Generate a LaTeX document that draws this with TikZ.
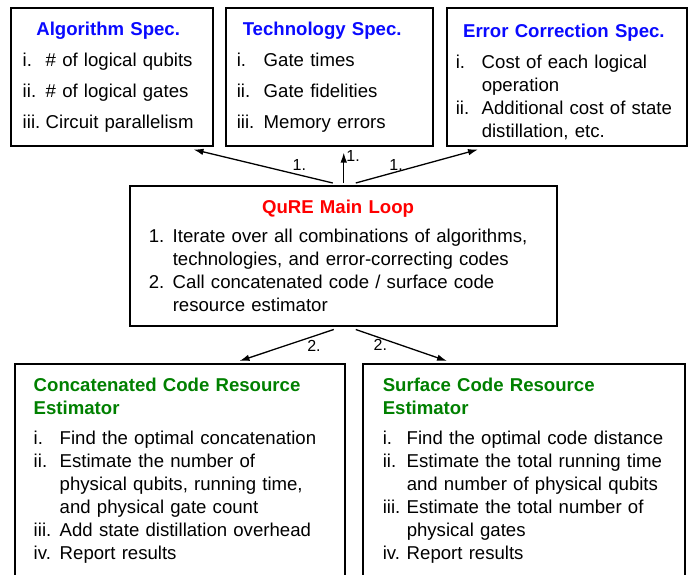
\documentclass[tikz,border=0pt]{standalone}
\usepackage{fontspec}
\setmainfont{Liberation Sans}
\usepackage{amsmath}
\usetikzlibrary{arrows.meta}

\definecolor{specblue}{RGB}{10,10,255}
\definecolor{loopred}{RGB}{255,0,0}
\definecolor{estgreen}{RGB}{0,128,0}

\begin{document}
\begin{tikzpicture}[x=1pt, y=-1pt, >={Latex[length=10pt,width=6.5pt]}]
        \tikzstyle{box}=[draw, line width=1.5pt, anchor=north west, align=left, inner ysep=0pt, font=\fontsize{18.6pt}{23pt}\selectfont]
        \tikzstyle{arr}=[->, line width=1.3pt]
        \tikzstyle{num}=[font=\fontsize{16pt}{18pt}\selectfont]
        \useasboundingbox (0,0) rectangle (694,574);
        \clip (0,0) rectangle (694,574);
        % specs
        \node [box, inner xsep=12pt, text width=178pt, minimum height=138pt] (algo) at (10,7) {%
          \begin{tabular}{@{}p{23pt}@{}l@{}}
          \noalign{\vskip 2pt}
          \multicolumn{2}{c}{\bfseries\color{specblue}Algorithm Spec.}\\[8pt]
          i. & \# of logical qubits\\[8pt]
          ii. & \# of logical gates\\[8pt]
          iii. & Circuit parallelism
          \end{tabular}};
        \node [box, inner xsep=11pt, text width=185pt, minimum height=138pt] (tech) at (225,7) {%
          \begin{tabular}{@{}p{27pt}@{}l@{}}
          \noalign{\vskip 2pt}
          \multicolumn{2}{c}{\bfseries\color{specblue}Technology Spec.}\\[8pt]
          i. & Gate times\\[8pt]
          ii. & Gate fidelities\\[8pt]
          iii. & Memory errors
          \end{tabular}};
        \node [box, inner xsep=9pt, text width=222pt, minimum height=138pt] (err) at (446,7) {%
          \begin{tabular}{@{}p{26pt}@{}l@{}}
          \noalign{\vskip 12pt}
          \multicolumn{2}{c}{\bfseries\color{specblue}Error Correction Spec.}\\[8pt]
          i. & Cost of each logical\\
           & operation\\
          ii. & Additional cost of state\\
           & distillation, etc.
          \end{tabular}};
        % main loop
        \node [box, inner xsep=19pt, text width=389pt, minimum height=140pt] (main) at (129,185) {%
          \begin{tabular}{@{}p{24pt}@{}l@{}}
          \noalign{\vskip 5pt}
          \multicolumn{2}{c}{\bfseries\color{loopred}QuRE Main Loop}\\[6pt]
          1. & Iterate over all combinations of algorithms,\\
           & technologies, and error-correcting codes\\
          2. & Call concatenated code / surface code\\
           & resource estimator
          \end{tabular}};
        % estimators
        \node [box, inner xsep=19pt, text width=292pt, minimum height=214pt] (concat) at (14,363) {%
          \begin{tabular}{@{}p{26pt}@{}l@{}}
          \multicolumn{2}{@{}l@{}}{\bfseries\color{estgreen}Concatenated Code Resource}\\
          \multicolumn{2}{@{}l@{}}{\bfseries\color{estgreen}Estimator}\\[7pt]
          i. & Find the optimal concatenation\\
          ii. & Estimate the number of\\
           & physical qubits, running time,\\
           & and physical gate count\\
          iii. & Add state distillation overhead\\
          iv. & Report results
          \end{tabular}};
        \node [box, inner xsep=20pt, text width=282pt, minimum height=214pt] (surf) at (362,363) {%
          \begin{tabular}{@{}p{24pt}@{}l@{}}
          \multicolumn{2}{@{}l@{}}{\bfseries\color{estgreen}Surface Code Resource}\\
          \multicolumn{2}{@{}l@{}}{\bfseries\color{estgreen}Estimator}\\[7pt]
          i. & Find the optimal code distance\\
          ii. & Estimate the total running time\\
           & and number of physical qubits\\
          iii. & Estimate the total number of\\
           & physical gates\\
          iv. & Report results
          \end{tabular}};
        % step 1
        \draw [arr] ([shift={(-10.5,-2)}]main.north) -- ([shift={(-20,3)}]algo.south east)
          node [num, pos=0.24, above] {1.};
        \draw [arr, shorten >=6pt] ([shift={(0.5,-2)}]main.north) -- ([xshift=0.5pt]main.north |- tech.south)
          node [num, pos=0.75, right, inner sep=2pt] {1.};
        \draw [arr] ([shift={(12.5,-2)}]main.north) -- ([shift={(32,3)}]err.south west)
          node [num, pos=0.33, above, inner sep=1pt] {1.};
        % step 2
        \draw [arr] ([shift={(-9.5,3)}]main.south) -- ([shift={(-106,-2)}]concat.north east)
          node [num, pos=0.21, below] {2.};
        \draw [arr] ([shift={(12.5,3)}]main.south) -- ([shift={(85,-2)}]surf.north west)
          node [num, pos=0.27, below, inner sep=1pt] {2.};
      \end{tikzpicture}
\end{document}
